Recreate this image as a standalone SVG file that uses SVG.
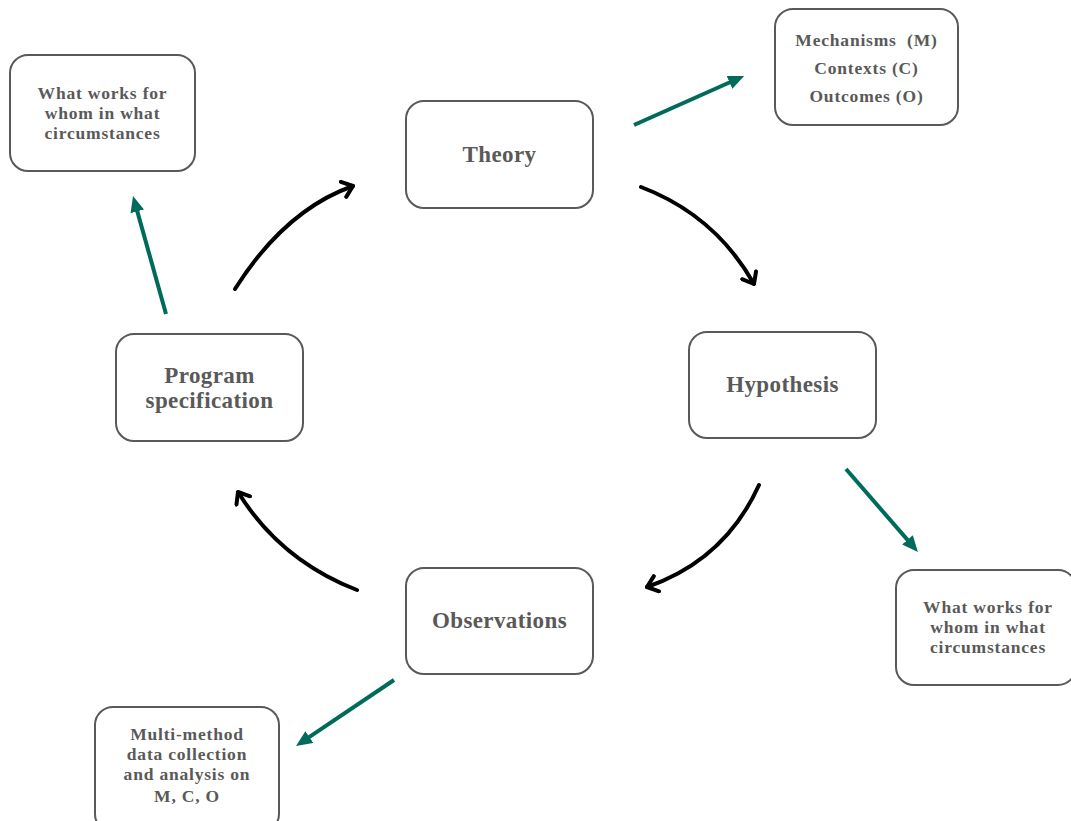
<svg xmlns="http://www.w3.org/2000/svg" width="1071" height="821" viewBox="0 0 1071 821">
<defs>
<style>
.box{fill:#fff;stroke:#595959;stroke-width:2}
.big{font-family:"Liberation Serif","Times New Roman",serif;font-weight:bold;font-size:23px;fill:#595959;text-anchor:middle;letter-spacing:0.4px}
.small{font-family:"Liberation Serif","Times New Roman",serif;font-weight:bold;font-size:17.5px;fill:#595959;text-anchor:middle;letter-spacing:0.8px;white-space:pre}
.cyc{fill:none;stroke:#000;stroke-width:4;stroke-linecap:round}
.out{fill:none;stroke:#006b5a;stroke-width:4}
</style>
<marker id="chev" viewBox="-12 -10 14 20" refX="0" refY="0" markerWidth="14" markerHeight="20" markerUnits="userSpaceOnUse" orient="auto">
<path d="M -10 -8 L 0 0 L -10 8" fill="none" stroke="#000" stroke-width="4" stroke-linecap="round" stroke-linejoin="round"/>
</marker>
<marker id="tri" viewBox="-6 -7 16 14" refX="0" refY="0" markerWidth="16" markerHeight="14" markerUnits="userSpaceOnUse" orient="auto">
<path d="M -6 -7 L 10 0 L -6 7 Z" fill="#006b5a"/>
</marker>
</defs>
<rect width="1071" height="821" fill="#fff"/>
<g id="connectors">
<path class="cyc" d="M 235 289 Q 285 210 353 186" marker-end="url(#chev)"/>
<path class="cyc" d="M 641 187 Q 715 215 754 284" marker-end="url(#chev)"/>
<path class="cyc" d="M 759 485 Q 725 560 647 587" marker-end="url(#chev)"/>
<path class="cyc" d="M 357 590 Q 280 560 238 492" marker-end="url(#chev)"/>
<path class="out" d="M 634 125 L 735 80" marker-end="url(#tri)"/>
<path class="out" d="M 166 314 L 135.7 205.6" marker-end="url(#tri)"/>
<path class="out" d="M 846 469 L 911.4 544.4" marker-end="url(#tri)"/>
<path class="out" d="M 394 680 L 304.3 740.4" marker-end="url(#tri)"/>
</g>
<g id="theory">
<rect class="box" x="406" y="101" width="187" height="107" rx="18"/>
<text class="big" x="499.5" y="162">Theory</text>
</g>
<g id="hypothesis">
<rect class="box" x="689" y="332" width="187" height="106" rx="18"/>
<text class="big" x="782.5" y="392">Hypothesis</text>
</g>
<g id="observations">
<rect class="box" x="406" y="568" width="187" height="106" rx="18"/>
<text class="big" x="499.5" y="628">Observations</text>
</g>
<g id="program">
<rect class="box" x="116" y="334" width="187" height="107" rx="18"/>
<text class="big" x="209.5" y="383">Program</text>
<text class="big" x="209.5" y="408">specification</text>
</g>
<g id="cmo">
<rect class="box" x="775" y="9" width="183" height="116" rx="18"/>
<text class="small" x="866.5" y="46">Mechanisms  (M)</text>
<text class="small" x="866.5" y="74">Contexts (C)</text>
<text class="small" x="866.5" y="102">Outcomes (O)</text>
</g>
<g id="what-left">
<rect class="box" x="10" y="55" width="185" height="116" rx="18"/>
<text class="small" x="102.5" y="99">What works for</text>
<text class="small" x="102.5" y="119">whom in what</text>
<text class="small" x="102.5" y="139">circumstances</text>
</g>
<g id="what-right">
<rect class="box" x="896" y="570" width="180" height="115" rx="18"/>
<text class="small" x="988" y="613">What works for</text>
<text class="small" x="988" y="633">whom in what</text>
<text class="small" x="988" y="653">circumstances</text>
</g>
<g id="multi">
<rect class="box" x="95" y="707" width="184" height="125" rx="18"/>
<text class="small" x="187" y="740">Multi-method</text>
<text class="small" x="187" y="760">data collection</text>
<text class="small" x="187" y="780">and analysis on</text>
<text class="small" x="187" y="802">M, C, O</text>
</g>
</svg>
